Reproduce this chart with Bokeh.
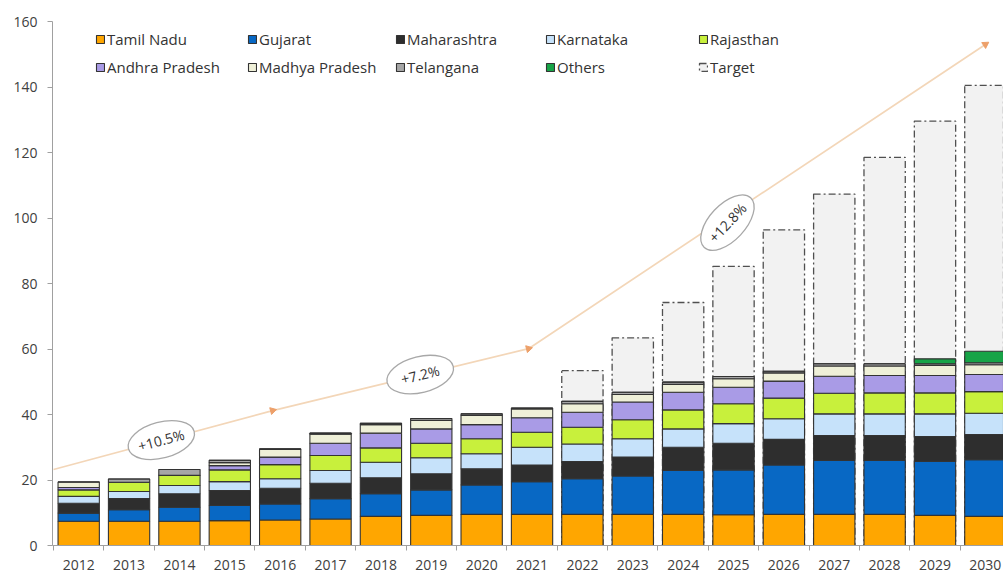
from bokeh.plotting import figure
from bokeh.models import Legend, LegendItem, FixedTicker, ColumnDataSource, Range1d
from bokeh.core.properties import value
from bokeh.embed import file_html
from bokeh.resources import INLINE

years = list(range(2012, 2031))
tamil_nadu = [7.4, 7.4, 7.4, 7.6, 7.8, 8.1, 8.9, 9.2, 9.5, 9.5, 9.5, 9.5, 9.5, 9.4, 9.5, 9.5, 9.5, 9.2, 8.9]
gujarat = [2.5, 3.5, 4.3, 4.6, 4.9, 6.2, 6.9, 7.8, 9.0, 10.0, 10.9, 11.7, 13.4, 13.7, 15.1, 16.5, 16.5, 16.5, 17.3]
maharashtra = [3.0, 3.4, 4.1, 4.6, 4.8, 4.7, 4.9, 4.9, 4.9, 5.1, 5.2, 5.8, 7.1, 8.1, 7.8, 7.6, 7.6, 7.6, 7.7]
karnataka = [2.1, 2.2, 2.5, 2.7, 2.9, 3.9, 4.7, 4.9, 4.6, 5.4, 5.4, 5.6, 5.6, 6.0, 6.3, 6.6, 6.6, 6.9, 6.5]
rajasthan = [2.0, 2.8, 3.1, 3.6, 4.3, 4.6, 4.4, 4.4, 4.6, 4.6, 5.1, 5.8, 5.8, 6.1, 6.3, 6.3, 6.4, 6.4, 6.6]
andhra_pradesh = [0.7, 0.0, 0.0, 1.3, 2.3, 3.7, 4.5, 4.4, 4.3, 4.4, 4.6, 5.4, 5.4, 5.0, 5.2, 5.2, 5.3, 5.3, 5.2]
madhya_pradesh = [1.7, 0.0, 0.0, 0.9, 2.3, 2.8, 2.6, 2.6, 2.8, 2.7, 2.6, 2.3, 2.4, 2.6, 2.5, 3.1, 2.9, 3.1, 3.0]
telangana = [0.0, 1.0, 1.8, 0.7, 0.2, 0.3, 0.4, 0.6, 0.5, 0.3, 0.7, 0.7, 0.7, 0.7, 0.5, 0.7, 0.7, 0.5, 0.6]
others = [0.0] * 17 + [1.5, 3.5]
target = [None] * 10 + [53.4, 63.4, 74.2, 85.2, 96.4, 107.3, 118.5, 129.6, 140.5]

series_names = ["Tamil Nadu", "Gujarat", "Maharashtra", "Karnataka", "Rajasthan",
                "Andhra Pradesh", "Madhya Pradesh", "Telangana", "Others"]
series_values = [tamil_nadu, gujarat, maharashtra, karnataka, rajasthan,
                 andhra_pradesh, madhya_pradesh, telangana, others]
series_colors = ["#ffa600", "#0868c4", "#2e2e2e", "#c6e2fa", "#c8f03c",
                 "#a99be6", "#eff0d8", "#a6a6a6", "#17a447"]

# trend line (growth path) and CAGR annotations
trend_x = [2011.5, 2015.85, 2020.93, 2030.0]
trend_y = [23.2, 41.2, 60.1, 153.0]
cagr_labels = ["+10.5%", "+7.2%", "+12.8%"]
cagr_x = [2013.64, 2018.78, 2024.88]
cagr_y = [32.2, 52.2, 98.6]
cagr_angle = [0.26, 0.24, 0.82]

FONT = "Open Sans"

p = figure(width=1003, height=573, x_range=Range1d(2011.48, 2030.36), y_range=Range1d(0, 160),
           output_backend="svg", toolbar_location=None,
           min_border_left=52, min_border_right=0, min_border_top=21, min_border_bottom=28)
p.xgrid.visible = False
p.ygrid.visible = False
p.outline_line_color = None
p.background_fill_color = "white"

# target bars
tx = [y for y, t in zip(years, target) if t is not None]
tt = [t for t in target if t is not None]
tsrc = ColumnDataSource(dict(x=tx, top=tt))
r_target = p.vbar(x="x", top="top", width=0.82, source=tsrc, fill_color="#f2f2f2",
                  line_color="#505050", line_dash="7 3 2 3", line_width=1.3)

keys = ["s%d" % i for i in range(len(series_names))]
data = dict(year=years)
for k, v in zip(keys, series_values):
    data[k] = v
src = ColumnDataSource(data)
stack_rs = p.vbar_stack(keys, x="year", width=0.82, source=src, fill_color=series_colors,
                        line_color="#333333", line_width=1.1)

# trend line
p.line(trend_x, trend_y, line_color="#f3d6b8", line_width=1.7)
p.scatter(trend_x[1:], trend_y[1:], marker="triangle", size=7,
          angle=[-1.31, -1.33, -0.99], fill_color="#eda06a", line_color="#eda06a")

p.ellipse(x=cagr_x, y=cagr_y, width=68, height=36, width_units="screen", height_units="screen",
          angle=cagr_angle, fill_color="white", line_color="#a8a8a8", line_width=1.3)
p.text(x=cagr_x, y=cagr_y, text=cagr_labels, angle=cagr_angle, text_align="center",
       text_baseline="middle", text_font=value(FONT), text_font_size="14px", text_color="#333333")

# axes
p.yaxis.ticker = FixedTicker(ticks=list(range(0, 161, 20)))
p.yaxis.major_tick_out = 5
p.yaxis.major_tick_in = 0
p.yaxis.minor_tick_out = 0
p.yaxis.minor_tick_in = 0
p.yaxis.axis_line_color = "#a0a0a0"
p.yaxis.major_tick_line_color = "#a0a0a0"
p.yaxis.major_label_text_font = FONT
p.yaxis.major_label_text_font_size = "14px"
p.yaxis.major_label_text_color = "#404040"
p.yaxis.major_label_standoff = 10

p.xaxis.ticker = FixedTicker(ticks=years, minor_ticks=[y + 0.5 for y in years[:-1]] + [2011.5])
p.xaxis.major_tick_out = 0
p.xaxis.major_tick_in = 0
p.xaxis.minor_tick_out = 5
p.xaxis.minor_tick_in = 0
p.xaxis.minor_tick_line_color = "#a0a0a0"
p.xaxis.axis_line_color = "#a0a0a0"
p.xaxis.major_label_text_font = FONT
p.xaxis.major_label_text_font_size = "14px"
p.xaxis.major_label_text_color = "#404040"
p.xaxis.major_label_standoff = 9

# legend: five columns of two items
all_r = stack_rs + [r_target]
all_n = series_names + ["Target"]
col_x = [43, 195, 343, 493, 646]
for c in range(5):
    items = [LegendItem(label=all_n[c], renderers=[all_r[c]]),
             LegendItem(label=all_n[c + 5], renderers=[all_r[c + 5]])]
    leg = Legend(items=items, location=(col_x[c], 468), orientation="vertical",
                 border_line_color=None, background_fill_alpha=0, padding=0, margin=0,
                 spacing=8, glyph_width=10, glyph_height=10, label_standoff=2,
                 label_height=20, label_text_font=FONT, label_text_font_size="15px",
                 label_text_color="#333333")
    p.add_layout(leg)

open("out.html", "w").write(file_html(p, INLINE))
